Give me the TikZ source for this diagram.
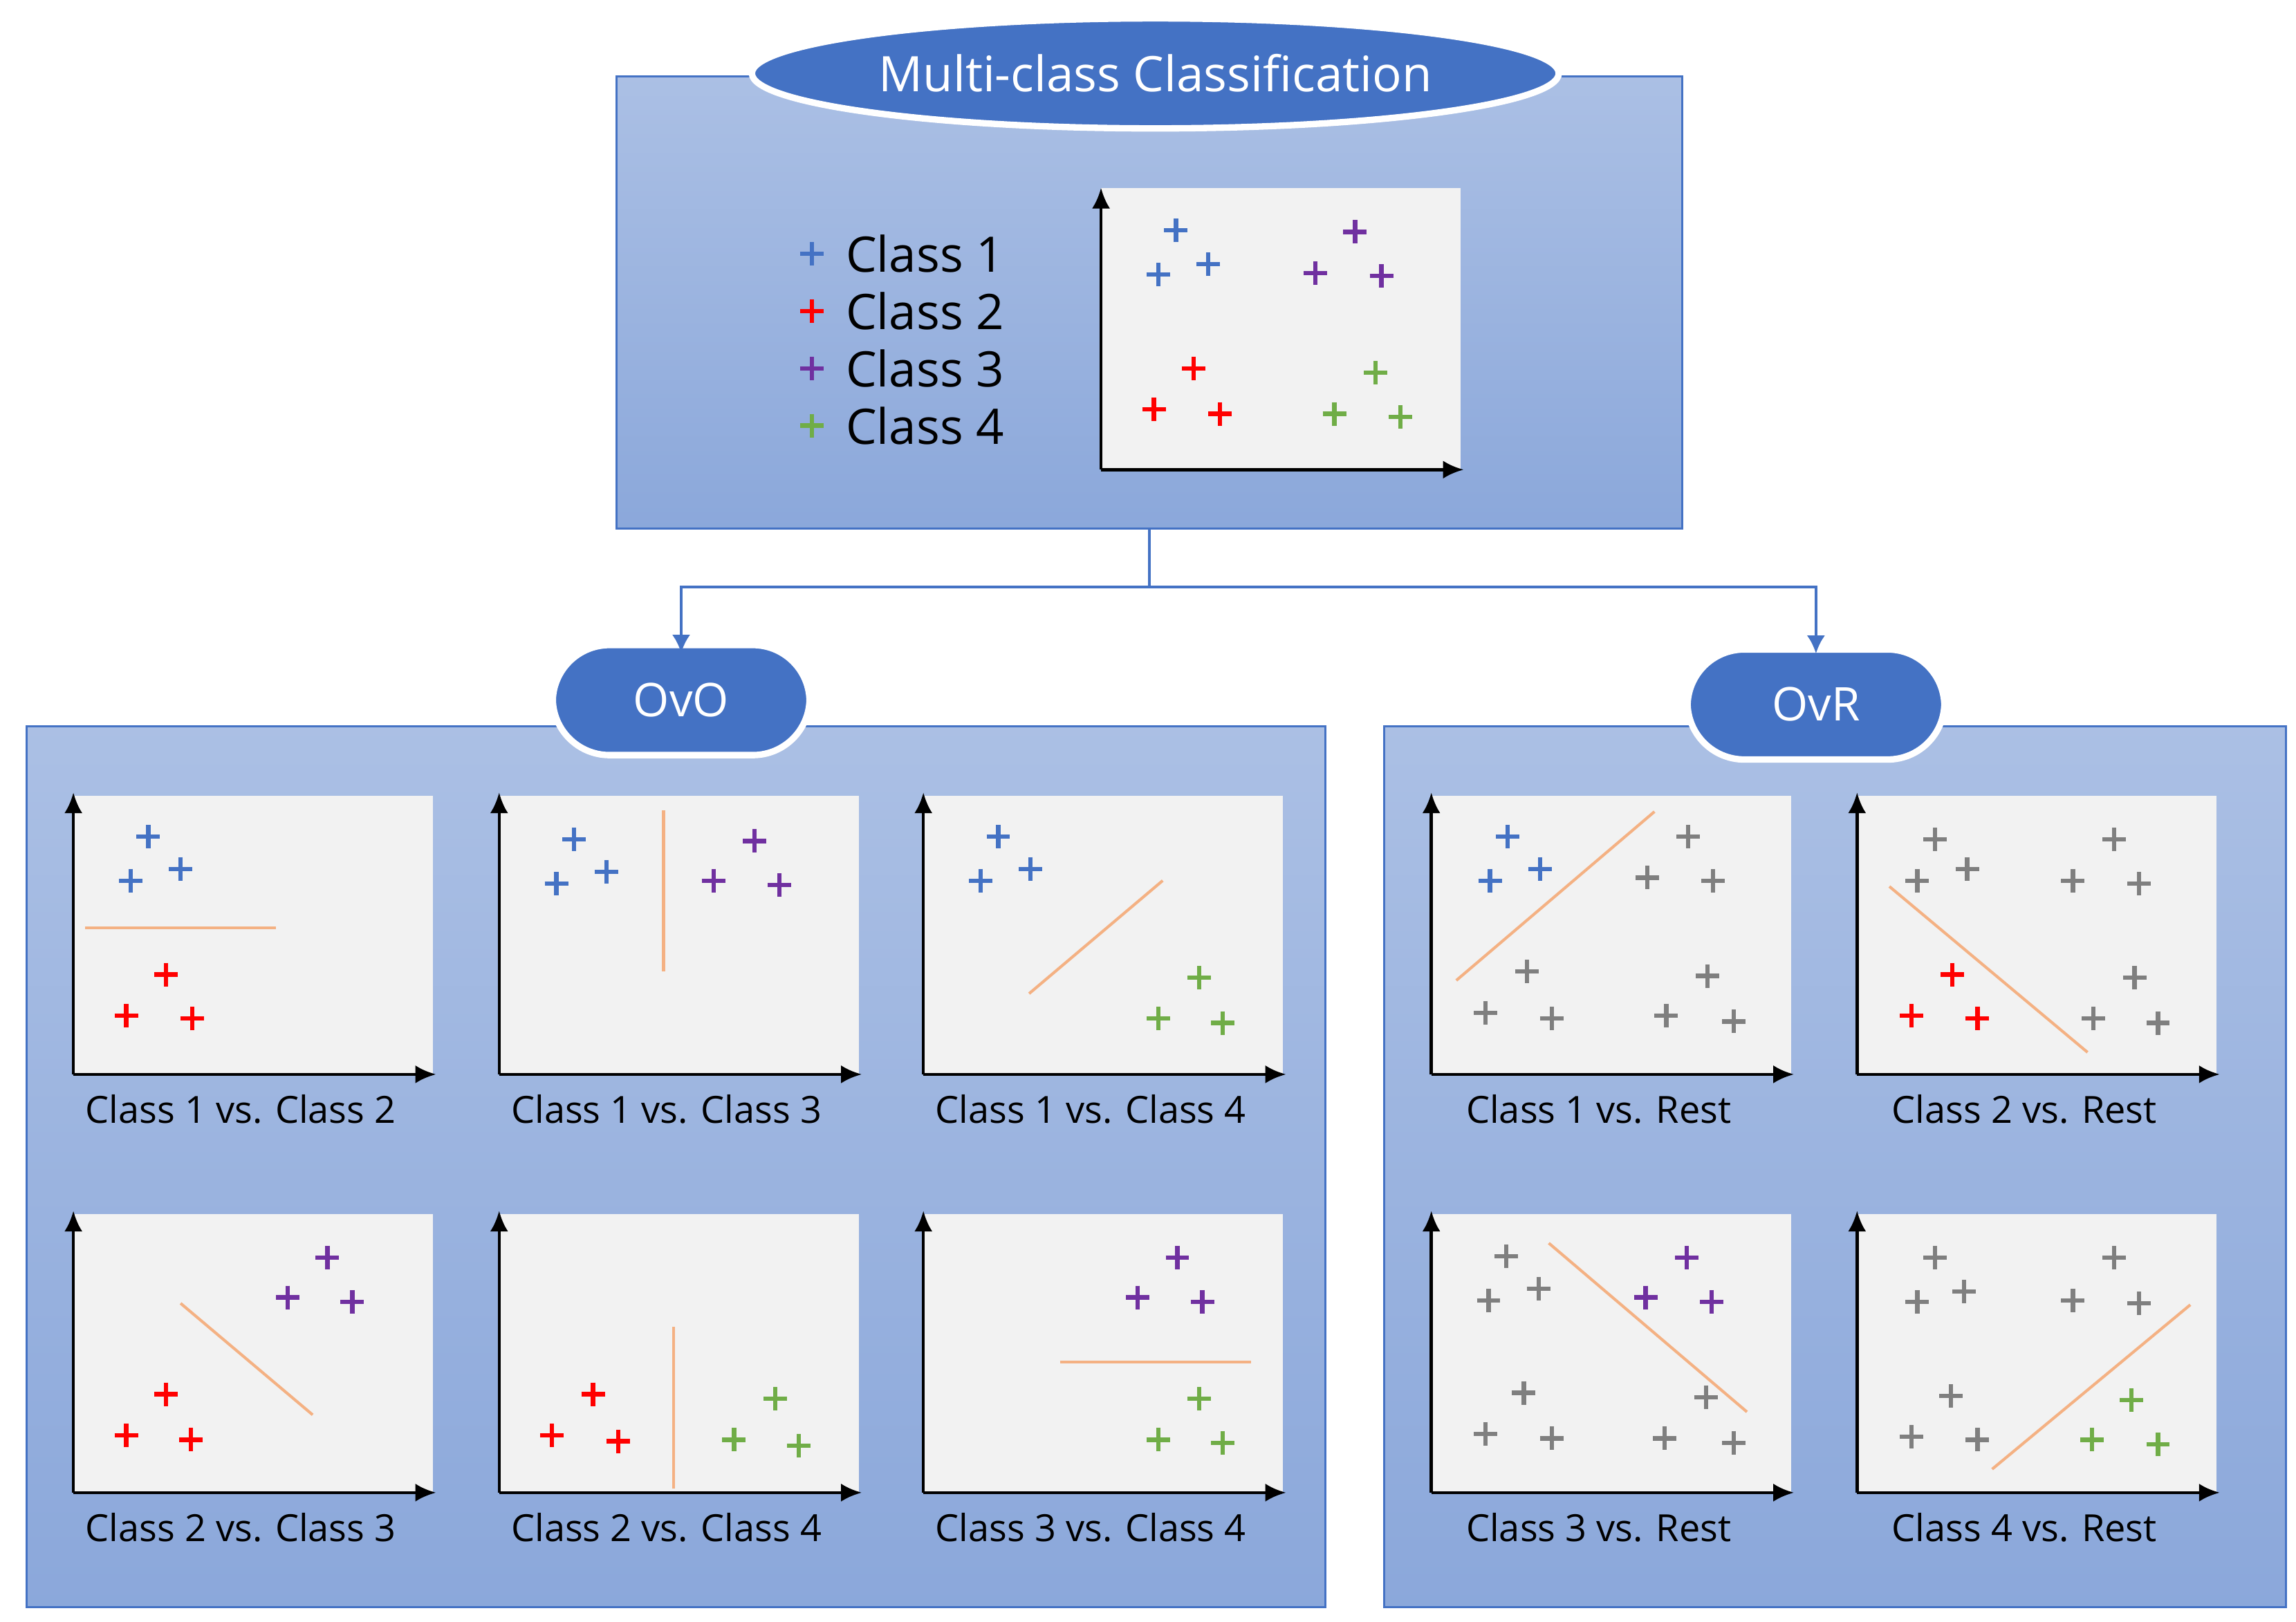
\documentclass[tikz,border=0pt]{standalone}
\usepackage{fontspec}
\setmainfont{Open Sans}
\usetikzlibrary{arrows.meta,shapes.geometric}
\definecolor{bl}{HTML}{4472C4}
\definecolor{cb}{HTML}{4472C4}
\definecolor{cr}{HTML}{FF0000}
\definecolor{cp}{HTML}{7030A0}
\definecolor{cg}{HTML}{70AD47}
\definecolor{cy}{HTML}{7F7F7F}
\definecolor{or}{HTML}{F4B183}
\tikzset{
 panel/.style={draw=bl,line width=0.8pt,top color=bl!45,bottom color=bl!62,inner sep=0},
 pill/.style={fill=bl,draw=white,line width=2.5pt,text=white,font=\fontsize{18}{21}\selectfont},
 plotbg/.style={fill=black!5,draw=none},
 ax/.style={line width=1.2pt,-{Latex[length=8pt,width=7pt]}},
 pt/.style={line width=1.7pt},
 dl/.style={or,line width=1.1pt},
 lab/.style={font=\fontsize{14.5}{17}\selectfont},
 conn/.style={bl,line width=1pt,-{Latex[length=7pt,width=7pt]}}
}
\newcommand\pp[3]{\draw[#1,pt] ({#2-8},#3)--({#2+8},#3) (#2,{#3-8})--(#2,{#3+8});}
\newcommand\plotbox[4]{%
 \fill[plotbg] (#1,#2) rectangle ({#1+245},{#2+190});
 \draw[ax] (#1,{#2+190})--(#1,{#2-2});
 \draw[ax] (#1,{#2+190})--({#1+247},{#2+190});
 \node[lab] (#3) at ({#1+114},{#2+214}) {#4};}
\begin{document}
\begin{tikzpicture}[x=0.02cm,y=-0.02cm]
\useasboundingbox (0,0) rectangle (1564,1105);
% top panel
\node[panel,minimum width=14.52cm,minimum height=6.16cm] (top) at (783,206) {};
\node[pill,ellipse,minimum width=10.3cm,minimum height=1.5cm,font=\fontsize{19}{22}\selectfont] (title) at (787,50) {Multi-class Classification};
\foreach \c/\y/\t in {cb/173/1,cr/212/2,cp/251/3,cg/290/4}{
 \pp{\c}{553}{\y}
 \node[anchor=west,font=\fontsize{19}{22}\selectfont] (leg\t) at (570,\y) {Class \t};}
\fill[plotbg] (750,128) rectangle (995,320);
\draw[ax] (750,320)--(750,128);
\draw[ax] (750,320)--(997,320);
\pp{cb}{801}{157}\pp{cb}{789}{187}\pp{cb}{823}{180}
\pp{cp}{923}{158}\pp{cp}{896}{186}\pp{cp}{941}{188}
\pp{cr}{813}{251}\pp{cr}{786}{279}\pp{cr}{831}{282}
\pp{cg}{937}{254}\pp{cg}{909}{282}\pp{cg}{954}{284}
% lower panels
\node[panel,minimum width=17.7cm,minimum height=12cm] (ovobox) at (460.5,795) {};
\node[panel,minimum width=12.28cm,minimum height=12cm] (ovrbox) at (1250,795) {};
\node[pill,rounded corners=22pt,minimum width=3.5cm,minimum height=1.5cm] (ovo) at (464,477) {OvO};
\node[pill,rounded corners=22pt,minimum width=3.5cm,minimum height=1.5cm] (ovr) at (1237,480) {OvR};
\coordinate (j) at (783,400);
\draw[bl,line width=1pt] (top.south)--(j);
\draw[conn] (j) -| ([yshift=-0.15cm]ovo.north);
\draw[conn] (j) -| ([yshift=-0.1cm]ovr.north);
% OvO plots
\plotbox{50}{542}{l1}{Class 1 vs. Class 2}
\pp{cb}{101}{570}\pp{cb}{89}{600}\pp{cb}{123}{592}
\pp{cr}{113}{664}\pp{cr}{86}{692}\pp{cr}{131}{694}
\draw[dl] (58,632)--(188,632);
\plotbox{340}{542}{l2}{Class 1 vs. Class 3}
\pp{cb}{391}{572}\pp{cb}{379}{602}\pp{cb}{413}{594}
\pp{cp}{514}{573}\pp{cp}{486}{600}\pp{cp}{531}{603}
\draw[dl] (452,552)--(452,662);
\plotbox{629}{542}{l3}{Class 1 vs. Class 4}
\pp{cb}{680}{570}\pp{cb}{668}{600}\pp{cb}{702}{592}
\pp{cg}{817}{666}\pp{cg}{789}{694}\pp{cg}{833}{697}
\draw[dl] (701,677)--(792,600);
\plotbox{50}{827}{l4}{Class 2 vs. Class 3}
\pp{cp}{223}{857}\pp{cp}{196}{884}\pp{cp}{240}{887}
\pp{cr}{113}{950}\pp{cr}{86}{978}\pp{cr}{130}{981}
\draw[dl] (123,888)--(213,964);
\plotbox{340}{827}{l5}{Class 2 vs. Class 4}
\pp{cr}{404}{950}\pp{cr}{376}{978}\pp{cr}{421}{982}
\pp{cg}{528}{953}\pp{cg}{500}{981}\pp{cg}{544}{985}
\draw[dl] (459,904)--(459,1014);
\plotbox{629}{827}{l6}{Class 3 vs. Class 4}
\pp{cp}{802}{857}\pp{cp}{775}{884}\pp{cp}{819}{887}
\pp{cg}{817}{953}\pp{cg}{789}{981}\pp{cg}{833}{983}
\draw[dl] (722,928)--(852,928);
% OvR plots
\plotbox{975}{542}{r1}{Class 1 vs. Rest}
\pp{cb}{1027}{570}\pp{cb}{1015}{600}\pp{cb}{1049}{592}
\foreach \x/\y in {1150/570,1122/598,1167/600,1040/662,1012/690,1057/694,1163/665,1135/692,1181/696}{\pp{cy}{\x}{\y}}
\draw[dl] (992,668)--(1127,553);
\plotbox{1265}{542}{r2}{Class 2 vs. Rest}
\foreach \x/\y in {1318/572,1306/600,1340/592,1440/572,1412/600,1457/602,1454/666,1426/694,1470/697}{\pp{cy}{\x}{\y}}
\pp{cr}{1330}{664}\pp{cr}{1302}{692}\pp{cr}{1347}{694}
\draw[dl] (1287,604)--(1422,717);
\plotbox{975}{827}{r3}{Class 3 vs. Rest}
\foreach \x/\y in {1026/856,1014/886,1048/878,1038/949,1012/977,1057/980,1162/952,1134/980,1181/983}{\pp{cy}{\x}{\y}}
\pp{cp}{1149}{857}\pp{cp}{1121}{884}\pp{cp}{1166}{887}
\draw[dl] (1055,847)--(1190,962);
\plotbox{1265}{827}{r4}{Class 4 vs. Rest}
\foreach \x/\y in {1318/857,1306/887,1338/880,1440/857,1412/886,1457/888,1329/951,1302/979,1347/981}{\pp{cy}{\x}{\y}}
\pp{cg}{1452}{954}\pp{cg}{1425}{981}\pp{cg}{1470}{984}
\draw[dl] (1357,1001)--(1492,889);
\end{tikzpicture}
\end{document}
